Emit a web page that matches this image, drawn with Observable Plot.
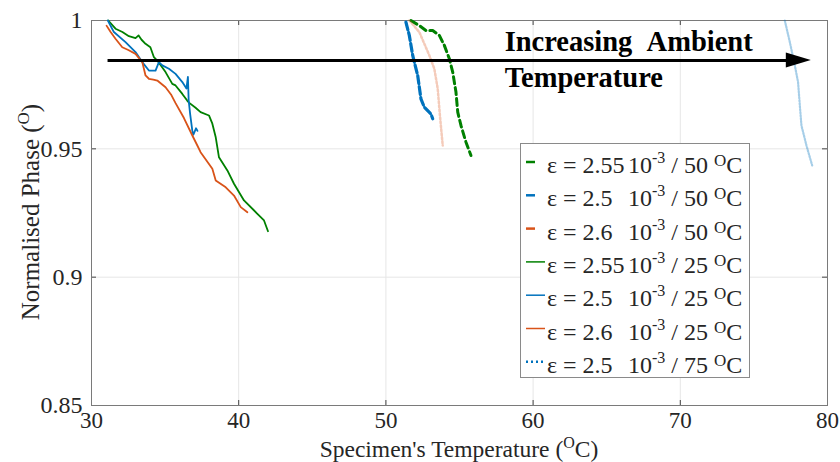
<!DOCTYPE html>
<html><head><meta charset="utf-8">
<script src="https://cdn.jsdelivr.net/npm/d3@7"></script>
<script src="https://cdn.jsdelivr.net/npm/@observablehq/plot@0.6"></script>
<style>body{margin:0;background:#fff}#chart{width:840px;height:462px}</style>
</head><body><div id="chart"></div>
<script>
// ---- data (temperature °C, normalised phase) ----
const green25 = [[31.14,1.0],[31.63,0.9968],[32.1,0.9955],[32.54,0.9939],[32.99,0.9931],[33.2,0.9942],[33.4,0.9925],[33.67,0.9909],[34.0,0.9896],[34.24,0.9857],[34.47,0.9844],[35.03,0.9799],[35.49,0.9753],[35.71,0.9747],[36.17,0.9714],[36.5,0.9688],[36.62,0.968],[37.07,0.966],[37.41,0.9643],[37.98,0.963],[38.21,0.9598],[38.44,0.9545],[38.66,0.9467],[39.23,0.9416],[39.68,0.9364],[40.36,0.9299],[41.27,0.9247],[41.72,0.9221],[41.99,0.9179]];
const blue25 = [[31.11,1.0],[31.52,0.9955],[32.31,0.9916],[32.99,0.9877],[33.45,0.9838],[33.9,0.9805],[34.35,0.9805],[34.58,0.9838],[34.81,0.9825],[35.26,0.9812],[35.71,0.9792],[36.17,0.976],[36.45,0.9735],[36.55,0.978],[36.6,0.969],[36.7,0.9636],[36.85,0.957],[36.92,0.9555],[37.1,0.958],[37.2,0.957]];
const orange25 = [[31.02,0.998],[31.3,0.9955],[31.63,0.9929],[32.09,0.9896],[32.5,0.9885],[32.99,0.987],[33.45,0.9838],[33.67,0.9786],[33.9,0.9773],[34.2,0.977],[34.47,0.9766],[35.03,0.974],[35.4,0.9712],[35.71,0.9678],[36.28,0.962],[36.85,0.9552],[37.19,0.9513],[37.41,0.9487],[38.21,0.9422],[38.44,0.9377],[39.12,0.935],[39.68,0.9318],[40.14,0.9273],[40.59,0.9253]];
const green50 = [[51.7,1.0],[52.27,0.998],[52.72,0.9961],[53.18,0.9961],[53.63,0.9942],[53.97,0.9903],[54.31,0.9851],[54.54,0.9799],[54.76,0.9721],[54.88,0.9643],[55.1,0.9591],[55.44,0.9526],[55.78,0.9474]];
const blue50 = [[51.36,0.9994],[51.59,0.9942],[51.82,0.9864],[52.16,0.9786],[52.38,0.9695],[52.61,0.9662],[53.06,0.9636],[53.18,0.9617]];
const orange50 = [[51.59,1.0],[52.27,0.9955],[52.95,0.9864],[53.29,0.9812],[53.52,0.9734],[53.67,0.963],[53.86,0.9513]];
const blue75 = [[77.1,1.0],[77.44,0.9916],[77.78,0.9825],[78.0,0.976],[78.12,0.9669],[78.23,0.9591],[78.57,0.9513],[78.96,0.9435]];

const legendStrain = ["2.55","2.5","2.6","2.55","2.5","2.6","2.5"];
const legendAmbient = ["50","50","50","25","25","25","75"];
const xTicks = [30,40,50,60,70,80];
const yTicks = [0.85,0.9,0.95,1];
const arrowAnno = {x1:31.09, x2:78.9, y:0.9844};
const textAnno = {x:58.1, line1:"Increasing\u00a0\u00a0Ambient", line2:"Temperature"};

// ---- styles ----
const C = {green:"#008000", blue:"#0072BD", orange:"#D95319"};
const styles = [
  {data:green50, stroke:C.green, w:3, dash:"7,4", op:1, legDash:"9,14"},
  {data:blue50, stroke:C.blue, w:3.2, dash:"8,3", op:1, legDash:"9,14"},
  {data:orange50, stroke:C.orange, w:2.5, dash:"2,2", op:0.3, legDash:"9,14"},
  {data:green25, stroke:C.green, w:1.8, dash:null, op:1},
  {data:blue25, stroke:C.blue, w:1.8, dash:null, op:1},
  {data:orange25, stroke:C.orange, w:1.8, dash:null, op:1},
  {data:blue75, stroke:C.blue, w:2.2, dash:"1.5,1.5", op:0.35, legDash:"2,3"},
];

const lineMarks = styles.map(s => Plot.line(s.data, {x:d=>d[0], y:d=>d[1], stroke:s.stroke, strokeWidth:s.w, strokeOpacity:s.op, strokeDasharray:s.dash ?? undefined, strokeLinejoin:"round"}));

const font = "'Liberation Serif','Times New Roman',serif";
const plot = Plot.plot({
  width:840, height:462,
  marginLeft:91, marginRight:13, marginTop:20, marginBottom:57,
  style:{fontFamily:font, fontSize:"24px", color:"#262626", background:"#fff"},
  x:{domain:[30,80], label:null},
  y:{domain:[0.85,1], label:null},
  marks:[
    Plot.gridX(xTicks, {stroke:"#e6e6e6", strokeOpacity:1}),
    Plot.gridY(yTicks, {stroke:"#e6e6e6", strokeOpacity:1}),
    Plot.axisX(xTicks, {tickSize:0, tickPadding:6, tickFormat:d=>String(d), fontSize:23, label:null}),
    Plot.axisY(yTicks, {tickSize:0, tickPadding:9, tickFormat:d=>String(d), fontSize:24, label:null}),
    Plot.tickX(xTicks, {x:d=>d, insetTop:380, stroke:"#444"}),
    Plot.tickX(xTicks, {x:d=>d, insetBottom:380, stroke:"#444"}),
    Plot.tickY(yTicks, {y:d=>d, insetLeft:731, stroke:"#444"}),
    Plot.tickY(yTicks, {y:d=>d, insetRight:731, stroke:"#444"}),
    Plot.frame({stroke:"#7a7a7a"}),
    ...lineMarks,
    Plot.link([arrowAnno], {x1:"x1", x2:d=>d.x2-1.6, y1:"y", y2:"y", stroke:"#000", strokeWidth:3})
  ]
});
document.getElementById("chart").appendChild(plot);

const sx = plot.scale("x"), sy = plot.scale("y");
const svg = d3.select(plot);

// arrow head
const tipX = sx.apply(arrowAnno.x2), ay = sy.apply(arrowAnno.y);
svg.append("path").attr("d", `M${tipX},${ay} L${tipX-25},${ay-7.5} L${tipX-25},${ay+7.5} Z`).attr("fill","#000");

// annotation text
const ax = sx.apply(textAnno.x);
svg.append("text").attr("x", ax).attr("y", 51).attr("text-anchor","start").attr("font-family", font).attr("font-weight","bold").attr("font-size",28.5).attr("fill","#000").text(textAnno.line1);
svg.append("text").attr("x", ax).attr("y", 87).attr("text-anchor","start").attr("font-family", font).attr("font-weight","bold").attr("font-size",28.5).attr("fill","#000").text(textAnno.line2);

// axis labels
const xl = svg.append("text").attr("x", (91+827)/2).attr("y", 456.5).attr("text-anchor","middle").attr("font-family",font).attr("font-size",23.5).attr("fill","#262626");
xl.append("tspan").text("Specimen's Temperature (");
xl.append("tspan").attr("font-size",16).attr("dy",-9).text("O");
xl.append("tspan").attr("dy",9).text("C)");

const yl = svg.append("text").attr("transform","translate(39,212) rotate(-90)").attr("text-anchor","middle").attr("font-family",font).attr("font-size",25).attr("fill","#262626");
yl.append("tspan").text("Normalised Phase (");
yl.append("tspan").attr("font-size",17).attr("dy",-10).text("O");
yl.append("tspan").attr("dy",10).text(")");

// legend
const lg = svg.append("g").attr("text-anchor","start");
lg.append("rect").attr("x",520.5).attr("y",143.5).attr("width",229).attr("height",234).attr("fill","#fff").attr("stroke","#8a8a8a");
styles.forEach((s,i) => {
  const cy = 162 + i*33.3;
  lg.append("line").attr("x1",526).attr("x2",545).attr("y1",cy).attr("y2",cy)
    .attr("stroke",s.stroke).attr("stroke-width", s.dash ? 2.5 : 1.5)
    .attr("stroke-dasharray", s.legDash || null);
  const t = lg.append("text").attr("x",547).attr("y",cy+11).attr("text-anchor","start").attr("font-family",font).attr("font-size",24).attr("fill","#262626");
  t.append("tspan").text("ε = " + legendStrain[i]);
  t.append("tspan").attr("x",628).text("10");
  t.append("tspan").attr("font-size",16).attr("dy",-10).text("-3");
  t.append("tspan").attr("dy",10).text("\u00a0/\u00a0" + legendAmbient[i] + "\u00a0");
  t.append("tspan").attr("font-size",17).attr("dy",-7).text("O");
  t.append("tspan").attr("dy",7).text("C");
});
</script>
</body></html>
